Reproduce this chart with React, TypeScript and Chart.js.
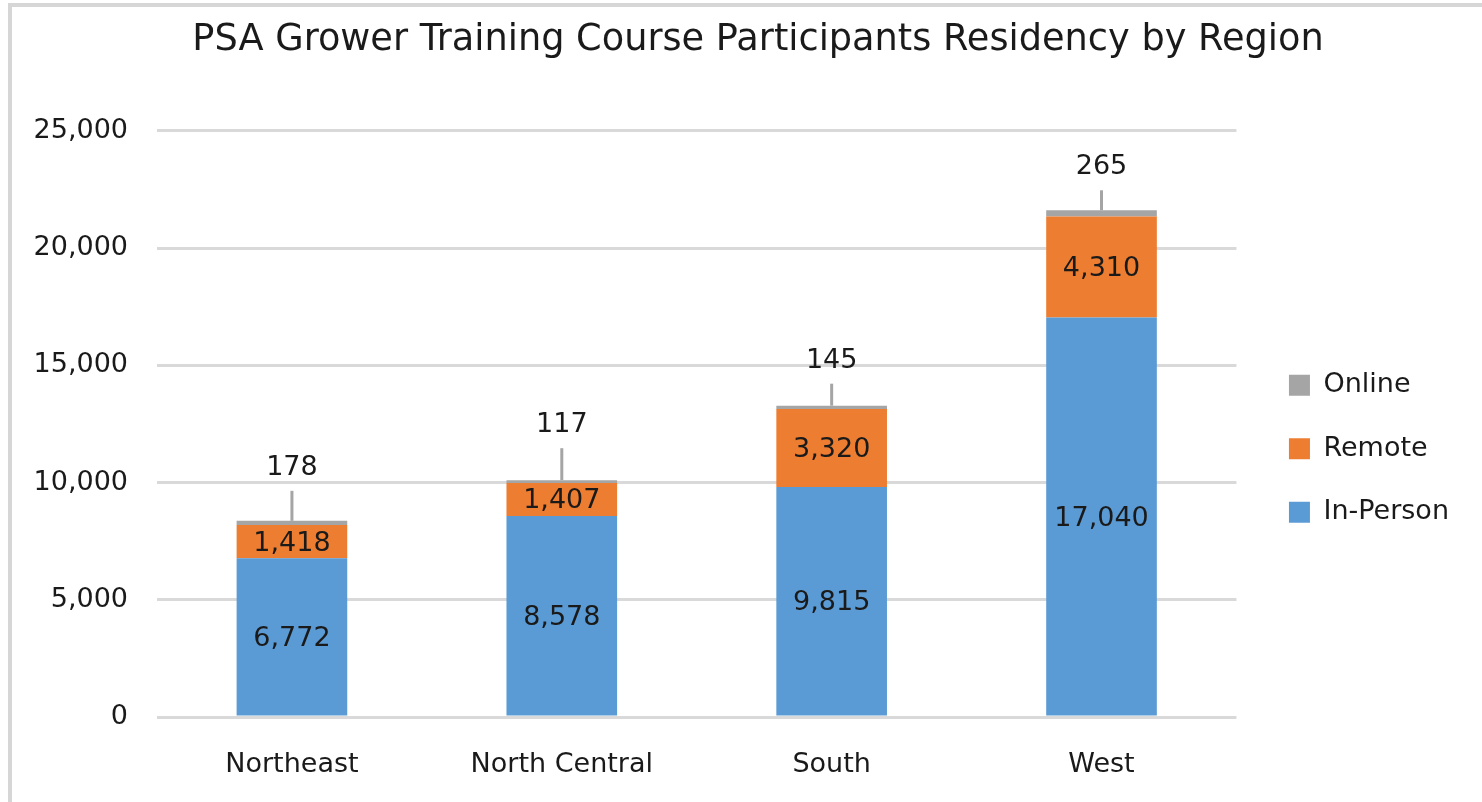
import React, { useEffect, useRef } from 'react';
import { Chart, registerables } from 'chart.js';

Chart.register(...registerables);

// ---- data ----
const TITLE = 'PSA Grower Training Course Participants Residency by Region';
const categories = ['Northeast', 'North Central', 'South', 'West'];
const inPerson = [6772, 8578, 9815, 17040];
const remote = [1418, 1407, 3320, 4310];
const online = [178, 117, 145, 265];
const yTickValues = [0, 5000, 10000, 15000, 20000, 25000];

// ---- style ----
const FONT = "'DejaVu Sans', sans-serif";
const TEXT = '#1a1a1a';
const GRID = '#d9d9d9';
const BLUE = '#5b9bd5';
const ORANGE = '#ed7d31';
const GRAY = '#a5a5a5';
const FS = 27;
// how far (px) each outside "Online" label sits above its bar top
const onlineLabelLift = [54, 56, 46, 44];

const fmt = (v: number) => Number(v).toLocaleString('en-US');

const barLabels = {
  id: 'barLabels',
  afterDatasetsDraw(chart: any) {
    const ctx = chart.ctx;
    ctx.save();
    ctx.font = `${FS}px ${FONT}`;
    ctx.fillStyle = TEXT;
    ctx.textAlign = 'center';
    ctx.textBaseline = 'middle';
    chart.data.datasets.forEach((ds: any, di: number) => {
      const meta = chart.getDatasetMeta(di);
      meta.data.forEach((bar: any, i: number) => {
        const v = ds.data[i];
        const { x, y, base } = bar.getProps(['x', 'y', 'base'], true);
        if (ds.label === 'Online') {
          const ly = y - onlineLabelLift[i];
          ctx.strokeStyle = GRAY;
          ctx.lineWidth = 3;
          ctx.beginPath();
          ctx.moveTo(x, ly + 24);
          ctx.lineTo(x, y);
          ctx.stroke();
          ctx.fillText(fmt(v), x, ly + 1);
        } else {
          ctx.fillText(fmt(v), x, (y + base) / 2 + 2);
        }
      });
    });
    ctx.restore();
  },
};

const spacer = (weight: number, width: number) => ({
  type: 'linear',
  axis: 'y',
  position: 'right',
  weight,
  display: true,
  grid: { display: false },
  border: { display: false },
  ticks: { display: false },
  afterFit: (s: any) => {
    s.width = width;
  },
});

export default function App() {
  const ref = useRef<HTMLCanvasElement | null>(null);

  useEffect(() => {
    if (!ref.current) return;
    const tickFont = { family: FONT, size: FS };
    const chart = new Chart(ref.current, {
      type: 'bar',
      data: {
        labels: categories,
        datasets: [
          { label: 'In-Person', data: inPerson, backgroundColor: BLUE, borderWidth: 0, yAxisID: 'y', xAxisID: 'x' },
          { label: 'Remote', data: remote, backgroundColor: ORANGE, borderWidth: 0, yAxisID: 'y', xAxisID: 'x' },
          { label: 'Online', data: online, backgroundColor: GRAY, borderWidth: 0, yAxisID: 'y', xAxisID: 'x' },
        ],
      },
      options: {
        responsive: false,
        animation: false,
        devicePixelRatio: 1,
        datasets: { bar: { barPercentage: 0.41, categoryPercentage: 1 } },
        layout: { padding: { left: 34, right: 0, top: 0, bottom: 23 } },
        plugins: {
          title: {
            display: true,
            text: TITLE,
            color: TEXT,
            font: { family: FONT, size: 36.7, weight: 'normal' },
            padding: { top: 18, bottom: 68.9 },
          },
          legend: {
            position: 'right',
            fullSize: false,
            reverse: true,
            align: 'center',
            maxWidth: 320,
            title: { display: true, text: '', padding: 17.5, font: { size: 12 } },
            labels: {
              boxWidth: 21,
              boxHeight: 21,
              padding: 36.5,
              color: TEXT,
              font: tickFont,
            },
          },
          tooltip: { enabled: false },
        },
        scales: {
          y: {
            stacked: true,
            min: 0,
            max: 25000,
            afterBuildTicks: (s: any) => {
              s.ticks = yTickValues.map((value) => ({ value }));
            },
            afterFit: (s: any) => {
              s.width = 123;
            },
            grid: { color: GRID, lineWidth: 3, drawTicks: false },
            border: { display: false },
            ticks: { color: TEXT, font: tickFont, padding: 29, callback: (v: any) => fmt(v) },
          },
          x: {
            stacked: true,
            afterFit: (s: any) => {
              s.height = 62;
            },
            grid: { display: false },
            border: { display: false },
            ticks: { color: TEXT, font: tickFont, padding: 24, maxRotation: 0, minRotation: 0, autoSkip: false },
          },
          spacerA: spacer(0, 16),
          spacerB: spacer(2000, 23),
        } as any,
      },
      plugins: [barLabels],
    } as any);
    return () => chart.destroy();
  }, []);

  return (
    <div style={{ position: 'absolute', left: 0, top: 0, width: 1482, height: 802, background: '#fff' }}>
      <canvas ref={ref} width={1482} height={802} style={{ position: 'absolute', left: 0, top: 0, width: 1482, height: 802 }} />
      <div
        style={{
          position: 'absolute',
          left: 8,
          top: 3,
          right: 0,
          bottom: 0,
          borderLeft: '4px solid #d6d6d6',
          borderTop: '4px solid #d6d6d6',
          pointerEvents: 'none',
        }}
      />
    </div>
  );
}
